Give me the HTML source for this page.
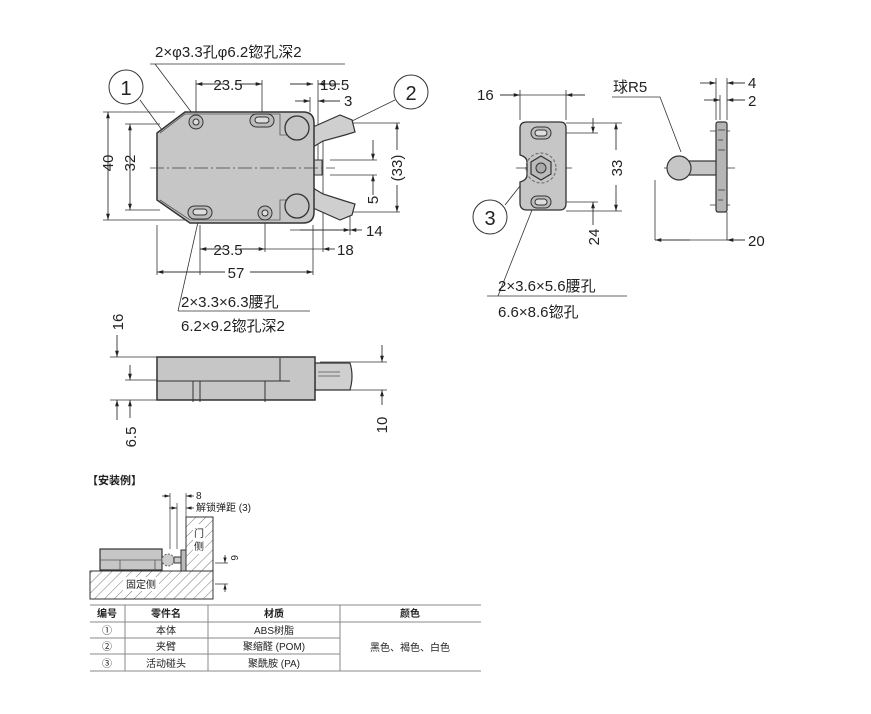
<!DOCTYPE html>
<html><head><meta charset="utf-8"><style>
body{margin:0;background:#fff;}
svg text{font-family:"Liberation Sans","Noto Sans CJK SC",sans-serif;fill:#222;}
</style></head><body>
<svg width="871" height="709" viewBox="0 0 871 709" xmlns="http://www.w3.org/2000/svg">
<defs>
<marker id="a" viewBox="0 0 10 10" refX="10" refY="5" markerWidth="7" markerHeight="7" orient="auto-start-reverse"><path d="M0,2 L10,5 L0,8z" fill="#222"/></marker>
<pattern id="h" width="7" height="7" patternUnits="userSpaceOnUse" patternTransform="rotate(45)"><line x1="0" y1="0" x2="0" y2="7" stroke="#777" stroke-width="1"/></pattern>
</defs>
<g stroke="#333" stroke-width="0.8" fill="none">
<!-- main top view extension lines -->
<path d="M103,112H175 M103,220H190 M125,124H160 M125,210H160 M196,80V115 M262,80V112 M318,80V160 M310,97V112 M200,225V275 M265,220V252 M313,225V275 M157,225V275 M350,215V235 M323,140V252 M330,123H400 M330,212H400 M330,160H377 M330,175H377"/>
</g>
<g stroke="#333" stroke-width="0.9" fill="none" marker-end="url(#a)">
<path d="M108,163V112"/><path d="M108,163V220"/>
<path d="M130,163V124"/><path d="M130,163V210"/>
<path d="M225,84H196" /><path d="M235,84H262"/>
<path d="M290,84H313"/><path d="M340,84H318"/>
<path d="M295,101H310"/><path d="M340,101H318"/>
<path d="M397,150V123"/><path d="M397,185V212"/>
<path d="M373,140V160"/><path d="M373,195V175"/>
<path d="M300,230H350"/><path d="M362,230H350"/>
<path d="M225,249H200"/><path d="M240,249H265"/><path d="M335,249H323"/>
<path d="M225,272H157"/><path d="M250,272H313"/>
</g>
<g stroke="#333" stroke-width="0.8" fill="none">
<path d="M255,249H323 M290,230H340"/>
<path d="M150,64H345 M155,64L192,113" />
<path d="M178,311H310 M178,311L198,222"/>
<path d="M140,100L162,130 M395,100L350,122"/>
</g>
<circle cx="126" cy="87" r="17" fill="#fff" stroke="#333"/>
<circle cx="411" cy="92" r="17" fill="#fff" stroke="#333"/>
<text x="126" y="95" font-size="20" text-anchor="middle">1</text>
<text x="411" y="100" font-size="20" text-anchor="middle">2</text>
<!-- arms -->
<path d="M313,127L340,115L352,120L355,132L345,135L323,141L313,147Z" fill="#cfcfcf" stroke="#333" stroke-width="1.2"/>
<path d="M313,188L323,194L345,201L355,204L352,215L340,220L313,208Z" fill="#cfcfcf" stroke="#333" stroke-width="1.2"/>
<rect x="312" y="160" width="10" height="15" fill="#cfcfcf" stroke="#333"/>
<!-- body -->
<path d="M157,133L185,112H303Q314,112 314,123V212Q314,223 303,223H190L157,200Z" fill="#c6c6c6" stroke="#333" stroke-width="1.5"/>
<path d="M160,133L185,114H280L280,135H305" fill="none" stroke="#555" stroke-width="0.8"/>
<path d="M160,200L190,220H280V200H305" fill="none" stroke="#555" stroke-width="0.8"/>
<circle cx="297" cy="128" r="12" fill="#c6c6c6" stroke="#333" stroke-width="1.3"/>
<circle cx="297" cy="206" r="12" fill="#c6c6c6" stroke="#333" stroke-width="1.3"/>
<circle cx="196" cy="122" r="7" fill="#bbb" stroke="#333"/><circle cx="196" cy="122" r="3" fill="#ddd" stroke="#333"/>
<circle cx="265" cy="213" r="7" fill="#bbb" stroke="#333"/><circle cx="265" cy="213" r="3" fill="#ddd" stroke="#333"/>
<rect x="250" y="114" width="24" height="13" rx="6.5" fill="#bbb" stroke="#333"/><rect x="255" y="117" width="14" height="6" rx="3" fill="#ddd" stroke="#333"/>
<rect x="188" y="206" width="24" height="13" rx="6.5" fill="#bbb" stroke="#333"/><rect x="193" y="209" width="14" height="6" rx="3" fill="#ddd" stroke="#333"/>
<path d="M150,168H335" stroke="#444" stroke-width="0.7" stroke-dasharray="14,3,2,3"/>
<g font-size="15">
<text x="155" y="57">2×φ3.3孔φ6.2锪孔深2</text>
<text x="228" y="90" text-anchor="middle">23.5</text>
<text x="320" y="90">19.5</text>
<text x="344" y="106">3</text>
<text x="366" y="236">14</text>
<text x="228" y="255" text-anchor="middle">23.5</text>
<text x="337" y="255">18</text>
<text x="236" y="278" text-anchor="middle">57</text>
<text x="181" y="307">2×3.3×6.3腰孔</text>
<text x="181" y="331">6.2×9.2锪孔深2</text>
<text transform="translate(113,163) rotate(-90)" text-anchor="middle">40</text>
<text transform="translate(135,163) rotate(-90)" text-anchor="middle">32</text>
<text transform="translate(402,168) rotate(-90)" text-anchor="middle">(33)</text>
<text transform="translate(378,200) rotate(-90)" text-anchor="middle">5</text>
</g>
<!-- side view of main -->
<g stroke="#333" stroke-width="0.8" fill="none">
<path d="M110,357H160 M125,380H160 M110,400H160 M320,362H387 M320,390H387"/>
</g>
<g stroke="#333" stroke-width="0.9" marker-end="url(#a)" fill="none">
<path d="M117,335V357"/><path d="M117,420V400"/>
<path d="M130,365V380"/><path d="M130,418V400"/>
<path d="M382,345V362"/><path d="M382,405V390"/>
</g>
<path d="M315,363H350Q354,376 350,390H315Z" fill="#cfcfcf" stroke="#333" stroke-width="1.2"/>
<path d="M318,372H340 M318,376H340" stroke="#555" stroke-width="0.8"/>
<rect x="157" y="357" width="158" height="43" fill="#c6c6c6" stroke="#333" stroke-width="1.5"/>
<path d="M157,381H290 M280,358V381 M193,381V402 M200,381V402 M265,381V402" stroke="#333" stroke-width="1" fill="none"/>
<g font-size="15">
<text transform="translate(123,322) rotate(-90)" text-anchor="middle">16</text>
<text transform="translate(136,437) rotate(-90)" text-anchor="middle">6.5</text>
<text transform="translate(387,425) rotate(-90)" text-anchor="middle">10</text>
</g>
<!-- part 3 front -->
<g stroke="#333" stroke-width="0.8" fill="none">
<path d="M520,90V120 M566,90V120 M566,123H622 M566,211H622 M548,133H598 M548,202H598 M516,168H572"/>
<path d="M487,296H627 M498,296L532,210 M505,205L520,186"/>
</g>
<g stroke="#333" stroke-width="0.9" marker-end="url(#a)" fill="none">
<path d="M500,95H520"/><path d="M585,95H566"/>
<path d="M616,150V123"/><path d="M616,185V211"/>
<path d="M593,118V133"/><path d="M593,225V202"/>
</g>
<path d="M520,95H566" stroke="#333" stroke-width="0.8"/>
<path d="M527,122H560Q566,122 566,128V203Q566,210 560,210H527Q520,210 520,203V182Q527,180 527,175V162Q527,157 520,155V128Q520,122 527,122Z" fill="#c6c6c6" stroke="#333" stroke-width="1.3"/>
<circle cx="541" cy="168" r="15" fill="none" stroke="#666" stroke-dasharray="3,2"/>
<path d="M541,156L551,162V174L541,180L531,174V162Z" fill="#bbb" stroke="#333" stroke-width="1.2"/>
<circle cx="541" cy="168" r="5" fill="#aaa" stroke="#333"/>
<rect x="531" y="127" width="20" height="12" rx="6" fill="#bbb" stroke="#333"/><rect x="535" y="130" width="12" height="6" rx="3" fill="#ddd" stroke="#333"/>
<rect x="531" y="196" width="20" height="12" rx="6" fill="#bbb" stroke="#333"/><rect x="535" y="199" width="12" height="6" rx="3" fill="#ddd" stroke="#333"/>
<circle cx="490" cy="217" r="17" fill="#fff" stroke="#333"/>
<text x="490" y="225" font-size="20" text-anchor="middle">3</text>
<g font-size="15">
<text x="477" y="100">16</text>
<text transform="translate(622,168) rotate(-90)" text-anchor="middle">33</text>
<text transform="translate(599,237) rotate(-90)" text-anchor="middle">24</text>
<text x="498" y="291">2×3.6×5.6腰孔</text>
<text x="498" y="317">6.6×8.6锪孔</text>
</g>
<!-- part 3 side -->
<g stroke="#333" stroke-width="0.8" fill="none">
<path d="M716,78V120 M727,78V120 M720,95V120 M655,180V240 M727,212V240 M664,168H735 M710,131H730 M710,205H730"/>
<path d="M612,97H660L681,152"/>
</g>
<g stroke="#333" stroke-width="0.9" marker-end="url(#a)" fill="none">
<path d="M700,83H716"/><path d="M745,83H727"/>
<path d="M704,100H720"/><path d="M745,100H727"/>
<path d="M690,240H655"/><path d="M745,240H727"/>
</g>
<path d="M655,240H727" stroke="#333" stroke-width="0.8"/>
<rect x="688" y="161" width="29" height="14" fill="#c6c6c6" stroke="#333" stroke-width="1.2"/>
<circle cx="679" cy="168" r="12" fill="#c6c6c6" stroke="#333" stroke-width="1.2"/>
<rect x="716" y="122" width="11" height="90" rx="2" fill="#b5b5b5" stroke="#333" stroke-width="1.2"/>
<path d="M718,130H725 M718,140H723 M718,150H725 M718,190H725 M718,200H723" stroke="#555"/>
<g font-size="15">
<text x="613" y="92">球R5</text>
<text x="748" y="88">4</text>
<text x="748" y="106">2</text>
<text x="748" y="246">20</text>
</g>
<!-- install example -->
<text x="87" y="484" font-size="11" font-weight="bold">【安装例】</text>
<rect x="90" y="571" width="123" height="28" fill="url(#h)" stroke="#333" stroke-width="1"/>
<rect x="186" y="517" width="27" height="54" fill="url(#h)" stroke="#333" stroke-width="1"/>
<rect x="193" y="524" width="12" height="30" fill="#fff"/>
<text x="199" y="537" font-size="10" text-anchor="middle">门</text>
<text x="199" y="550" font-size="10" text-anchor="middle">侧</text>
<rect x="123" y="577" width="36" height="14" fill="#fff"/>
<text x="141" y="588" font-size="10" text-anchor="middle">固定侧</text>
<rect x="100" y="549" width="62" height="21" fill="#c6c6c6" stroke="#333" stroke-width="1.2"/>
<path d="M100,560H162 M120,560V570 M155,560V570" stroke="#555" stroke-width="0.8" fill="none"/>
<circle cx="168" cy="560" r="6" fill="#ccc" stroke="#666" stroke-dasharray="2,1.5"/>
<rect x="181" y="550" width="5" height="21" fill="#bbb" stroke="#333"/>
<rect x="174" y="557" width="7" height="6" fill="#ccc" stroke="#333"/>
<g stroke="#333" stroke-width="0.7" fill="none">
<path d="M170,493V549 M186,493V517 M177,503V549 M215,563H228 M215,584H228"/>
</g>
<g stroke="#333" stroke-width="0.8" marker-end="url(#a)" fill="none">
<path d="M162,496H170"/><path d="M194,496H186"/>
<path d="M169,508H177"/><path d="M194,508H186"/>
<path d="M225,555V563"/><path d="M225,592V584"/>
</g>
<text x="196" y="499" font-size="10">8</text>
<text x="196" y="511" font-size="10">解锁弹距 (3)</text>
<text transform="translate(231,555) rotate(90)" font-size="10">6</text>
<!-- table -->
<g stroke="#888" stroke-width="1" fill="none">
<path d="M90,605H481 M90,622H481 M90,671H481 M90,638H340 M90,654H340 M125,605V671 M208,605V671 M340,605V671"/>
</g>
<g font-size="10" text-anchor="middle">
<text x="107" y="617" font-weight="bold">编号</text>
<text x="166" y="617" font-weight="bold">零件名</text>
<text x="274" y="617" font-weight="bold">材质</text>
<text x="410" y="617" font-weight="bold">颜色</text>
<text x="107" y="634">①</text><text x="166" y="634">本体</text><text x="274" y="634">ABS树脂</text>
<text x="107" y="650">②</text><text x="166" y="650">夹臂</text><text x="274" y="650">聚缩醛 (POM)</text>
<text x="107" y="667">③</text><text x="166" y="667">活动碰头</text><text x="274" y="667">聚酰胺 (PA)</text>
<text x="410" y="651">黑色、褐色、白色</text>
</g>
</svg>
</body></html>
